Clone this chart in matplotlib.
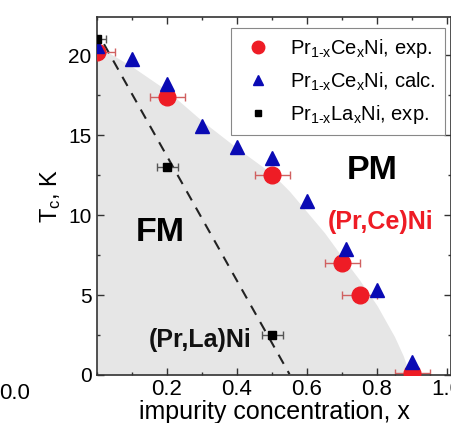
import matplotlib
matplotlib.use("Agg")
import matplotlib.pyplot as plt
from matplotlib.ticker import MultipleLocator

plt.rcParams['font.family'] = ['Liberation Sans', 'DejaVu Sans']
plt.rcParams['mathtext.fontset'] = 'custom'
plt.rcParams['mathtext.rm'] = 'Liberation Sans'
plt.rcParams['mathtext.it'] = 'Liberation Sans'

# --- data ---
ce_exp_x = [0.0, 0.2, 0.5, 0.7, 0.75, 0.9]
ce_exp_y = [20.2, 17.4, 12.5, 7.0, 5.0, 0.1]
ce_exp_xerr = [0.05, 0.05, 0.05, 0.05, 0.05, 0.05]

ce_calc_x = [0.0, 0.1, 0.2, 0.3, 0.4, 0.5, 0.6, 0.71, 0.8, 0.9]
ce_calc_y = [20.6, 19.8, 18.2, 15.6, 14.25, 13.6, 10.9, 7.9, 5.3, 0.8]

la_exp_x = [0.0, 0.2, 0.5]
la_exp_y = [21.0, 13.0, 2.5]
la_exp_xerr = [0.025, 0.03, 0.03]

la_line_x = [0.02, 0.55]
la_line_y = [20.7, 0.05]

fm_bound_x = [0.0, 0.1, 0.2, 0.3, 0.4, 0.5, 0.55, 0.6, 0.65, 0.7, 0.75, 0.8, 0.85, 0.875, 0.894]
fm_bound_y = [20.6, 19.3, 17.8, 15.9, 14.2, 12.6, 11.5, 10.2, 8.9, 7.4, 5.95, 4.35, 2.4, 1.2, 0.0]

xticks = [0.2, 0.4, 0.6, 0.8, 1.0]
xtick_labels = ["0.2", "0.4", "0.6", "0.8", "1.0"]
yticks = [0, 5, 10, 15, 20]

red = '#ee1c25'
blue = '#0a0ab4'

fig = plt.figure(figsize=(4.52, 4.23), dpi=100)
ax = fig.add_axes([97/452, 1-375/423, 354/452, 358/423])

ax.fill_between(fm_bound_x, 0, fm_bound_y, color='#e6e6e6', lw=0, zorder=0)
ax.plot(la_line_x, la_line_y, ls=(0, (5, 4)), color='#222222', lw=1.5, zorder=1)

ax.errorbar(ce_exp_x, ce_exp_y, xerr=ce_exp_xerr, fmt='none',
            ecolor='#d06060', elinewidth=1, capsize=3, capthick=1, zorder=2)
ax.errorbar(la_exp_x, la_exp_y, xerr=la_exp_xerr, fmt='none',
            ecolor='#555555', elinewidth=1, capsize=3, capthick=1, zorder=2)
h1, = ax.plot(ce_exp_x, ce_exp_y, 'o', color=red, ms=12, ls='none', zorder=3,
              label=r"Pr$_{1\text{-}x}$Ce$_x$Ni, exp.")
h2, = ax.plot(ce_calc_x, ce_calc_y, '^', color=blue, ms=10, ls='none', zorder=3,
              label=r"Pr$_{1\text{-}x}$Ce$_x$Ni, calc.")
h3, = ax.plot(la_exp_x, la_exp_y, 's', color='black', ms=6, ls='none', zorder=3,
              label=r"Pr$_{1\text{-}x}$La$_x$Ni, exp.")

ax.set_xlim(0, 1.0114)
ax.set_ylim(0, 22.4)
ax.set_xticks(xticks)
ax.set_xticklabels(xtick_labels)
ax.set_yticks(yticks)
ax.xaxis.set_minor_locator(MultipleLocator(0.1))
ax.yaxis.set_minor_locator(MultipleLocator(2.5))
ax.tick_params(which='both', direction='in', top=True, right=True,
               color='#333333', width=1.0)
ax.tick_params(which='major', length=5)
ax.tick_params(which='minor', length=2.5)
ax.tick_params(axis='x', pad=3, labelsize=16)
ax.tick_params(axis='y', pad=4, labelsize=15)
for s in ax.spines.values():
    s.set_color('#333333')
    s.set_linewidth(1.2)

ax.text(-0.235, -0.5, "0.0", transform=ax.transData, ha='center', va='top',
        fontsize=16, clip_on=False)

ax.set_xlabel("impurity concentration, x", fontsize=18, labelpad=0)
ax.set_ylabel(r"T$_\mathregular{c}$, K", fontsize=17, labelpad=4)

ax.text(0.18, 8.9, "FM", fontsize=24.5, fontweight='bold', ha='center', va='center')
ax.text(0.786, 12.8, "PM", fontsize=24.5, fontweight='bold', ha='center', va='center')
ax.text(0.81, 9.56, "(Pr,Ce)Ni", fontsize=18, fontweight='bold', color=red,
        ha='center', va='center')
ax.text(0.294, 2.2, "(Pr,La)Ni", fontsize=18, fontweight='bold', color='#111111',
        ha='center', va='center')

leg = ax.legend(handles=[h1, h2, h3], loc='upper right', bbox_to_anchor=(0.983, 0.969),
                borderaxespad=0, fontsize=14.5, fancybox=False, edgecolor='#888888',
                framealpha=1, handletextpad=0.7, labelspacing=0.5, borderpad=0.45,
                handlelength=1.8, markerscale=0.75)
leg.get_frame().set_linewidth(0.8)

fig.savefig("out.png", dpi=100)
